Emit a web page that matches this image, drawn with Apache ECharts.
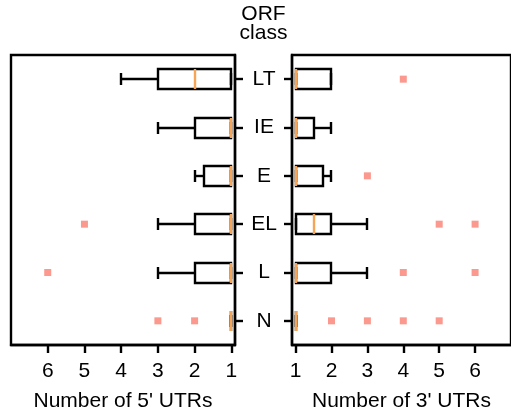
<!DOCTYPE html>
<html>
<head>
<meta charset="utf-8">
<script src="https://cdn.jsdelivr.net/npm/echarts@6/dist/echarts.min.js"></script>
<style>html,body{margin:0;padding:0;background:#fff;}#c{width:511px;height:419px;}</style>
</head>
<body>
<div id="c"></div>
<script>
// ---- data ----
const categories = ['LT', 'IE', 'E', 'EL', 'L', 'N'];
const tickValues = [1, 2, 3, 4, 5, 6];
// box statistics per category: [min whisker, Q1, median, Q3, max whisker]
const utr5Stats = [
  [1, 1, 2, 3, 4],
  [1, 1, 1, 2, 3],
  [1, 1, 1, 1.75, 2],
  [1, 1, 1, 2, 3],
  [1, 1, 1, 2, 3],
  [1, 1, 1, 1, 1]
];
const utr3Stats = [
  [1, 1, 1, 2, 2],
  [1, 1, 1, 1.5, 2],
  [1, 1, 1, 1.75, 2],
  [1, 1, 1.5, 2, 3],
  [1, 1, 1, 2, 3],
  [1, 1, 1, 1, 1]
];
const utr5OutlierCats = ['EL', 'L', 'N', 'N'];
const utr5OutlierVals = [5, 6, 3, 2];
const utr3OutlierCats = ['LT', 'E', 'EL', 'EL', 'L', 'L', 'N', 'N', 'N', 'N'];
const utr3OutlierVals = [4, 3, 5, 6, 4, 6, 2, 3, 4, 5];
const xLabel5 = "Number of 5' UTRs";
const xLabel3 = "Number of 3' UTRs";
const titleText = 'ORF\nclass';

// ---- styling ----
const FONT = "'Liberation Sans', Arial, sans-serif";
const FS = 21;
const LW = 2.4;
const MEDIAN_COLOR = '#f5a555';
const FLIER_COLOR = '#fa8072';
const BOX_HALF = 10;
const CAP_HALF = 6;

function boxRows(stats) {
  return stats.map((s, i) => [i].concat(s));
}
function renderBox(params, api) {
  const cat = api.value(0);
  const vals = [api.value(1), api.value(2), api.value(3), api.value(4), api.value(5)];
  const p = vals.map(v => api.coord([v, cat]));
  const cy = Math.round(p[0][1]);
  const r = Math.round;
  const xMin = r(p[0][0]), xQ1 = r(p[1][0]), xMed = r(p[2][0]), xQ3 = r(p[3][0]), xMax = r(p[4][0]);
  const blk = {stroke: '#000', lineWidth: LW, fill: null};
  const children = [
    {type: 'line', shape: {x1: xQ1, y1: cy, x2: xMin, y2: cy}, style: blk},
    {type: 'line', shape: {x1: xQ3, y1: cy, x2: xMax, y2: cy}, style: blk},
    {type: 'line', shape: {x1: xMin, y1: cy - CAP_HALF, x2: xMin, y2: cy + CAP_HALF}, style: blk},
    {type: 'line', shape: {x1: xMax, y1: cy - CAP_HALF, x2: xMax, y2: cy + CAP_HALF}, style: blk},
    {type: 'rect', shape: {x: Math.min(xQ1, xQ3), y: cy - BOX_HALF, width: Math.abs(xQ3 - xQ1), height: 2 * BOX_HALF}, style: {stroke: '#000', lineWidth: LW, fill: 'rgba(0,0,0,0)'}},
    {type: 'line', shape: {x1: xMed, y1: cy - BOX_HALF, x2: xMed, y2: cy + BOX_HALF}, style: {stroke: MEDIAN_COLOR, lineWidth: LW}}
  ];
  return {type: 'group', children: children};
}

function valueAxis(idx, inverse, name) {
  return {
    type: 'value', gridIndex: idx, min: 0.9, max: 7, inverse: inverse,
    splitLine: {show: false},
    axisLine: {show: true, lineStyle: {color: '#000', width: LW}},
    axisTick: {show: true, length: 8, customValues: tickValues, lineStyle: {color: '#000', width: LW}},
    axisLabel: {customValues: tickValues, fontSize: FS, color: '#000', fontFamily: FONT, margin: 16},
    name: name, nameLocation: 'middle', nameGap: 46,
    nameTextStyle: {fontSize: FS, color: '#000', fontFamily: FONT}
  };
}
function catAxis(idx, position, showLabels) {
  return {
    type: 'category', gridIndex: idx, data: categories, inverse: true, position: position,
    axisLine: {show: true, lineStyle: {color: '#000', width: LW}},
    axisTick: {show: true, alignWithLabel: true, length: 8, lineStyle: {color: '#000', width: LW}},
    axisLabel: {show: showLabels, fontSize: FS, color: '#000', fontFamily: FONT, align: 'center', margin: 28},
    splitLine: {show: false}
  };
}

const chart = echarts.init(document.getElementById('c'), null, {renderer: 'canvas'});
chart.setOption({
  animation: false,
  backgroundColor: '#fff',
  grid: [
    {left: 11, top: 55, width: 224, height: 290, show: true, borderColor: '#000', borderWidth: LW, backgroundColor: 'rgba(0,0,0,0)'},
    {left: 292, top: 55, width: 224, height: 290, show: true, borderColor: '#000', borderWidth: LW, backgroundColor: 'rgba(0,0,0,0)'}
  ],
  xAxis: [valueAxis(0, true, xLabel5), valueAxis(1, false, xLabel3)],
  yAxis: [catAxis(0, 'right', false), catAxis(1, 'left', true)],
  graphic: [{
    type: 'text', x: 263.5, y: 5,
    style: {text: titleText, align: 'center', verticalAlign: 'top', fontSize: FS, lineHeight: 19, fill: '#000', fontFamily: FONT}
  }],
  series: [
    {type: 'custom', xAxisIndex: 0, yAxisIndex: 0, renderItem: renderBox, data: boxRows(utr5Stats), encode: {x: [1, 2, 3, 4, 5], y: 0}, silent: true, z: 3},
    {type: 'custom', xAxisIndex: 1, yAxisIndex: 1, renderItem: renderBox, data: boxRows(utr3Stats), encode: {x: [1, 2, 3, 4, 5], y: 0}, silent: true, z: 3},
    {type: 'scatter', xAxisIndex: 0, yAxisIndex: 0, symbol: 'rect', symbolSize: 7, itemStyle: {color: FLIER_COLOR},
      data: utr5OutlierVals.map((v, i) => [v, utr5OutlierCats[i]]), silent: true, z: 4},
    {type: 'scatter', xAxisIndex: 1, yAxisIndex: 1, symbol: 'rect', symbolSize: 7, itemStyle: {color: FLIER_COLOR},
      data: utr3OutlierVals.map((v, i) => [v, utr3OutlierCats[i]]), silent: true, z: 4}
  ]
});
</script>
</body>
</html>
